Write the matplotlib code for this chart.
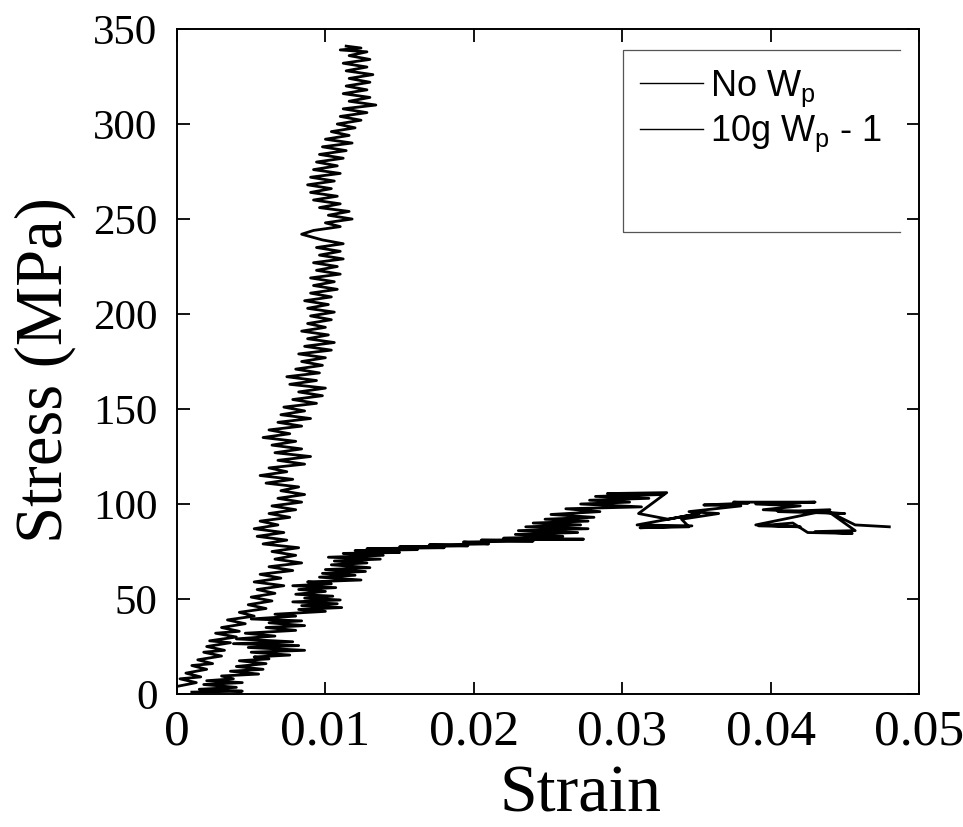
import matplotlib
matplotlib.use("Agg")
import matplotlib.pyplot as plt
from matplotlib.lines import Line2D

# ---------------- data ----------------
# Curve 1: "No Wp" (steep curve up to ~340 MPa)
strain_nowp = [0.0000, 0.0013, 0.0002, 0.0016, 0.0006, 0.0020, 0.0010, 0.0024, 0.0014, 0.0030,
               0.0018, 0.0032, 0.0020, 0.0036, 0.0022, 0.0040, 0.0026, 0.0042, 0.0030, 0.0046,
               0.0034, 0.0052, 0.0042, 0.0060, 0.0048, 0.0064, 0.0050, 0.0066, 0.0054, 0.0072,
               0.0052, 0.0070, 0.0056, 0.0078, 0.0062, 0.0084, 0.0066, 0.0080, 0.0064, 0.0082,
               0.0058, 0.0074, 0.0054, 0.0072, 0.0052, 0.0068, 0.0056, 0.0076, 0.0062, 0.0080,
               0.0064, 0.0084, 0.0068, 0.0086, 0.0070, 0.0082, 0.0060, 0.0078, 0.0056, 0.0074,
               0.0062, 0.0086, 0.0068, 0.0090, 0.0066, 0.0084, 0.0064, 0.0080, 0.0058, 0.0076,
               0.0062, 0.0084, 0.0068, 0.0090, 0.0070, 0.0086, 0.0072, 0.0094, 0.0078, 0.0098,
               0.0082, 0.0100, 0.0076, 0.0094, 0.0074, 0.0096, 0.0080, 0.0098, 0.0084, 0.0100,
               0.0082, 0.0104, 0.0086, 0.0106, 0.0088, 0.0102, 0.0084, 0.0100, 0.0088, 0.0104,
               0.0090, 0.0106, 0.0088, 0.0102, 0.0086, 0.0104, 0.0090, 0.0108, 0.0092, 0.0106,
               0.0090, 0.0110, 0.0094, 0.0108, 0.0092, 0.0112, 0.0096, 0.0110, 0.0094, 0.0112,
               0.0098, 0.0084, 0.0092, 0.0110, 0.0100, 0.0118, 0.0102, 0.0116, 0.0096, 0.0110,
               0.0092, 0.0108, 0.0090, 0.0104, 0.0088, 0.0106, 0.0090, 0.0110, 0.0092, 0.0108,
               0.0094, 0.0112, 0.0096, 0.0114, 0.0098, 0.0118, 0.0100, 0.0116, 0.0104, 0.0120,
               0.0108, 0.0124, 0.0110, 0.0128, 0.0112, 0.0134, 0.0116, 0.0130, 0.0112, 0.0128,
               0.0114, 0.0130, 0.0116, 0.0132, 0.0114, 0.0128, 0.0112, 0.0130, 0.0116, 0.0128,
               0.0110, 0.0124, 0.0114]
stress_nowp = [4, 6, 8, 9, 11, 13, 15, 16, 18, 20,
               22, 23, 25, 27, 28, 30, 32, 33, 35, 37,
               39, 41, 43, 45, 47, 49, 51, 53, 55, 57,
               59, 61, 63, 65, 67, 69, 71, 73, 75, 77,
               79, 81, 83, 85, 87, 89, 91, 93, 95, 97,
               99, 101, 103, 105, 107, 109, 111, 113, 115, 117,
               119, 121, 123, 125, 127, 129, 131, 133, 135, 137,
               139, 141, 143, 145, 147, 149, 151, 153, 155, 157,
               159, 161, 163, 165, 167, 169, 171, 173, 175, 177,
               179, 181, 183, 185, 187, 189, 191, 193, 195, 197,
               199, 201, 203, 205, 207, 209, 211, 213, 215, 217,
               219, 221, 223, 225, 227, 229, 231, 233, 235, 237,
               239, 242, 244, 246, 248, 250, 252, 254, 256, 258,
               260, 262, 264, 266, 268, 270, 272, 274, 276, 278,
               280, 282, 284, 286, 288, 290, 292, 294, 296, 298,
               300, 302, 304, 306, 308, 310, 312, 314, 316, 318,
               320, 322, 324, 326, 328, 330, 332, 334, 336, 338,
               339, 340, 341]

# Curve 2: "10g Wp - 1" (yields near 80 MPa, runs to 0.048 strain)
strain_10g = [0.0010, 0.0044, 0.0015, 0.0040, 0.0018, 0.0044, 0.0020, 0.0038, 0.0030, 0.0055,
              0.0036, 0.0058, 0.0040, 0.0060, 0.0042, 0.0062, 0.0052, 0.0076, 0.0050, 0.0086,
              0.0048, 0.0082, 0.0038, 0.0078, 0.0040, 0.0066, 0.0046, 0.0080, 0.0060, 0.0086,
              0.0062, 0.0084, 0.0050, 0.0080, 0.0066, 0.0100, 0.0082, 0.0111, 0.0084, 0.0108,
              0.0078, 0.0110, 0.0086, 0.0105, 0.0080, 0.0100, 0.0082, 0.0107, 0.0078, 0.0104,
              0.0088, 0.0124, 0.0096, 0.0120, 0.0098, 0.0127, 0.0100, 0.0130, 0.0104, 0.0128,
              0.0106, 0.0137, 0.0102, 0.0139, 0.0112, 0.0150, 0.0120, 0.0162, 0.0128, 0.0180,
              0.0150, 0.0196, 0.0170, 0.0210, 0.0193, 0.0240, 0.0205, 0.0274, 0.0220, 0.0260,
              0.0228, 0.0270, 0.0230, 0.0277, 0.0235, 0.0272, 0.0240, 0.0277, 0.0248, 0.0281,
              0.0252, 0.0285, 0.0262, 0.0313, 0.0272, 0.0305, 0.0278, 0.0318, 0.0282, 0.0328,
              0.0290, 0.0330, 0.0311, 0.0331, 0.0352, 0.0310, 0.0347, 0.0312, 0.0345, 0.0340,
              0.0365, 0.0345, 0.0380, 0.0355, 0.0385, 0.0375, 0.0430, 0.0390, 0.0420, 0.0395,
              0.0450, 0.0405, 0.0440, 0.0390, 0.0420, 0.0392, 0.0415, 0.0425, 0.0455, 0.0430,
              0.0457, 0.0439, 0.0457, 0.0480]
stress_10g = [1, 1.5, 2.5, 3.5, 5, 6, 7, 8, 9.5, 10.5,
              12, 13, 14.5, 16, 17.5, 18.5, 19.5, 20.5, 22, 23,
              24.5, 25.5, 26.5, 27.5, 29, 30.5, 32, 33.5, 35, 36,
              37.5, 38.5, 39.5, 41, 42, 43.5, 44.5, 45.5, 46.5, 47.5,
              48.5, 49.5, 50.5, 51.5, 52.5, 54, 55, 56, 57, 58,
              59, 60, 61.5, 62.5, 63.5, 64.5, 65.5, 66.5, 68, 69,
              70, 71, 72, 73, 74, 74.5, 75.5, 76, 76.5, 77,
              77.5, 78, 78.5, 79, 80, 80.5, 81, 81.5, 82, 83,
              84, 85, 86, 87, 88, 89, 90, 91, 92, 93,
              94.5, 96, 97.5, 98.5, 100, 101, 102, 103, 104, 105,
              105.5, 106, 95, 92, 95, 89, 88.5, 87.5, 88, 92,
              95, 96, 99, 99.5, 100.5, 101, 101, 100, 99, 97,
              95, 96, 97, 89, 88, 88.5, 90, 85, 84.5, 85.5,
              86, 96, 89, 88]

labels = ["No W$_\\mathregular{p}$", "10g W$_\\mathregular{p}$ - 1"]
xticks = [0, 0.01, 0.02, 0.03, 0.04, 0.05]
xticklabels = ["0", "0.01", "0.02", "0.03", "0.04", "0.05"]
yticks = [0, 50, 100, 150, 200, 250, 300, 350]

# ---------------- figure ----------------
fig = plt.figure(figsize=(9.63, 8.27), dpi=100)
ax = fig.add_axes([0.1838, 0.1608, 0.7705, 0.8041])

l1, = ax.plot(strain_nowp, stress_nowp, color="black", lw=2.0)
l2, = ax.plot(strain_10g, stress_10g, color="black", lw=2.0)

ax.set_xlim(0, 0.05)
ax.set_ylim(0, 350)
ax.set_xticks(xticks)
ax.set_xticklabels(xticklabels)
ax.set_yticks(yticks)

for lab in ax.get_xticklabels():
    lab.set_fontfamily("Liberation Serif")
    lab.set_fontsize(37)
for lab in ax.get_yticklabels():
    lab.set_fontfamily("Liberation Serif")
    lab.set_fontsize(31)

ax.tick_params(axis="both", which="both", direction="in", top=True, right=True,
               length=9, width=1.3, color="black")
ax.tick_params(axis="y", pad=14)
ax.tick_params(axis="x", pad=11)
for sp in ax.spines.values():
    sp.set_linewidth(1.4)

fig.text(45 / 963, 1 - 370 / 827, "Stress (MPa)", rotation=90, ha="center", va="center",
         fontfamily="Liberation Serif", fontsize=48)
fig.text(580 / 963, 0.002, "Strain", ha="center", va="bottom",
         fontfamily="Liberation Serif", fontsize=49)

# legend box (drawn in axes fraction)
bx0, bx1 = 0.601, 0.974
by0, by1 = 0.695, 0.968
ax.add_line(Line2D([bx1, bx0, bx0, bx1], [by1, by1, by0, by0], transform=ax.transAxes,
                   color="#555555", lw=0.9, clip_on=False))

leg = ax.legend([l1, l2], labels, loc="upper left", bbox_to_anchor=(0.624, 0.941),
                frameon=False, borderpad=0, borderaxespad=0, handlelength=1.75,
                handletextpad=0.2, labelspacing=0.15,
                prop={"family": "Liberation Sans", "size": 26})
for h in leg.get_lines():
    h.set_linewidth(1.0)

fig.savefig("out.png", dpi=100)
